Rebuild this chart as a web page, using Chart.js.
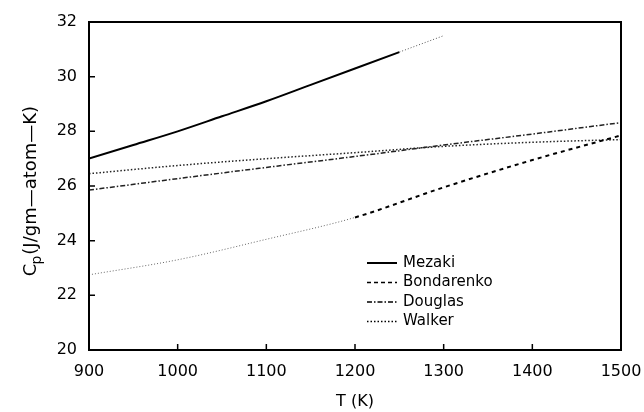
<!DOCTYPE html>
<html>
<head>
<meta charset="utf-8">
<script src="https://cdn.jsdelivr.net/npm/chart.js@4.4.1/dist/chart.umd.min.js"></script>
<style>
  html, body { margin: 0; padding: 0; background: #fff; }
  #wrap { width: 644px; height: 412px; }
</style>
</head>
<body>
<div id="wrap"><canvas id="cpChart" width="644" height="412"></canvas></div>
<script>
// datos
const mezakiT = [900, 950, 1000, 1050, 1100, 1150, 1200, 1250, 1300];
const mezakiCp = [27.0, 27.5, 28.0, 28.55, 29.1, 29.7, 30.3, 30.9, 31.5];
const temps = [900, 1000, 1100, 1200, 1300, 1400, 1500];
const bondarenkoCp = [22.75, 23.3, 24.05, 24.85, 25.95, 26.95, 27.85];
const douglasCp = [25.85, 26.27, 26.68, 27.08, 27.5, 27.9, 28.32];
const walkerCp = [26.45, 26.75, 27.0, 27.22, 27.45, 27.6, 27.7];
const xTicks = [900, 1000, 1100, 1200, 1300, 1400, 1500];
const yTicks = [20, 22, 24, 26, 28, 30, 32];
const seriesNames = ['Mezaki', 'Bondarenko', 'Douglas', 'Walker'];

const FONT = 'DejaVu Sans';
const toXY = (xs, ys) => xs.map((x, i) => ({ x: x, y: ys[i] }));

// estilos de la leyenda
const legendStyles = [
  { dash: [], width: 2 },
  { dash: [4, 3], width: 1.5 },
  { dash: [5, 2, 1.5, 2], width: 1.5 },
  { dash: [1.5, 2], width: 1.5 }
];

const framePlugin = {
  id: 'frame',
  afterDraw(chart) {
    const ctx = chart.ctx;
    const a = chart.chartArea;
    const xs = chart.scales.x, ys = chart.scales.y;
    ctx.save();
    ctx.strokeStyle = '#000';
    ctx.lineWidth = 2;
    ctx.strokeRect(a.left, a.top, a.right - a.left, a.bottom - a.top);
    ctx.lineWidth = 1.5;
    ctx.beginPath();
    yTicks.forEach(v => {
      const py = ys.getPixelForValue(v);
      ctx.moveTo(a.left, py); ctx.lineTo(a.left + 6, py);
    });
    xTicks.forEach(v => {
      const px = xs.getPixelForValue(v);
      ctx.moveTo(px, a.bottom); ctx.lineTo(px, a.bottom - 6);
    });
    ctx.stroke();

    // leyenda dentro del area
    ctx.font = '15px "' + FONT + '"';
    ctx.textBaseline = 'middle';
    ctx.fillStyle = '#000';
    seriesNames.forEach((name, i) => {
      const y = 263 + i * 19.5;
      ctx.beginPath();
      ctx.setLineDash(legendStyles[i].dash);
      ctx.lineWidth = legendStyles[i].width;
      ctx.moveTo(367, y); ctx.lineTo(397, y);
      ctx.stroke();
      ctx.setLineDash([]);
      ctx.fillText(name, 403, y);
    });

    // titulo del eje y con subindice
    const main = '(J/gm\u2014atom\u2014K)';
    ctx.translate(31, (a.top + a.bottom) / 2 + 5);
    ctx.rotate(-Math.PI / 2);
    ctx.textBaseline = 'middle';
    ctx.font = '18px "' + FONT + '"';
    const wC = ctx.measureText('C').width;
    const wMain = ctx.measureText(main).width;
    ctx.font = '14px "' + FONT + '"';
    const wP = ctx.measureText('p').width;
    let x0 = -(wC + wP + wMain) / 2;
    ctx.font = '18px "' + FONT + '"';
    ctx.fillText('C', x0, 0);
    ctx.font = '14px "' + FONT + '"';
    ctx.fillText('p', x0 + wC - 1, 6);
    ctx.font = '18px "' + FONT + '"';
    ctx.fillText(main, x0 + wC + wP, 0);
    ctx.restore();
  }
};

new Chart(document.getElementById('cpChart').getContext('2d'), {
  type: 'line',
  data: {
    datasets: [{
      label: 'Mezaki',
      data: toXY(mezakiT, mezakiCp),
      borderColor: '#000',
      borderWidth: 2,
      cubicInterpolationMode: 'monotone',
      segment: {
        borderDash: c => c.p0.parsed.x >= 1250 ? [1, 2] : undefined,
        borderWidth: c => c.p0.parsed.x >= 1250 ? 1 : undefined,
        borderColor: c => c.p0.parsed.x >= 1250 ? '#555' : undefined
      }
    }, {
      label: 'Bondarenko',
      data: toXY(temps, bondarenkoCp),
      borderColor: '#000',
      borderWidth: 2,
      borderDash: [4, 4],
      cubicInterpolationMode: 'monotone',
      segment: {
        borderDash: c => c.p0.parsed.x < 1200 ? [1, 2] : undefined,
        borderWidth: c => c.p0.parsed.x < 1200 ? 1 : undefined,
        borderColor: c => c.p0.parsed.x < 1200 ? '#666' : undefined
      }
    }, {
      label: 'Douglas',
      data: toXY(temps, douglasCp),
      borderColor: '#222',
      borderWidth: 1.5,
      borderDash: [5, 2, 1.5, 2],
      cubicInterpolationMode: 'monotone'
    }, {
      label: 'Walker',
      data: toXY(temps, walkerCp),
      borderColor: '#222',
      borderWidth: 1.5,
      borderDash: [1.5, 2],
      cubicInterpolationMode: 'monotone'
    }]
  },
  options: {
    responsive: false,
    animation: false,
    layout: { padding: { left: 0, right: 23, top: 22, bottom: 0 } },
    elements: { point: { radius: 0 } },
    plugins: { legend: { display: false }, tooltip: { enabled: false } },
    scales: {
      x: {
        type: 'linear',
        min: 900, max: 1500,
        afterFit: s => { s.height = 62; s.paddingRight = 0; },
        afterBuildTicks: s => { s.ticks = xTicks.map(v => ({ value: v })); },
        grid: { display: false, drawTicks: false },
        border: { display: true, color: '#000', width: 2 },
        ticks: { color: '#000', padding: 12, font: { family: FONT, size: 16 }, callback: v => String(v) },
        title: { display: true, text: 'T (K)', color: '#000', padding: { top: 0, bottom: 1 }, font: { family: FONT, size: 16 } }
      },
      y: {
        min: 20, max: 32,
        afterFit: s => { s.width = 89; },
        afterBuildTicks: s => { s.ticks = yTicks.map(v => ({ value: v })); },
        grid: { display: false, drawTicks: false },
        border: { display: true, color: '#000', width: 2 },
        ticks: { color: '#000', padding: 12, font: { family: FONT, size: 16 }, callback: v => String(v) },
        title: { display: false }
      }
    }
  },
  plugins: [framePlugin]
});
</script>
</body>
</html>
